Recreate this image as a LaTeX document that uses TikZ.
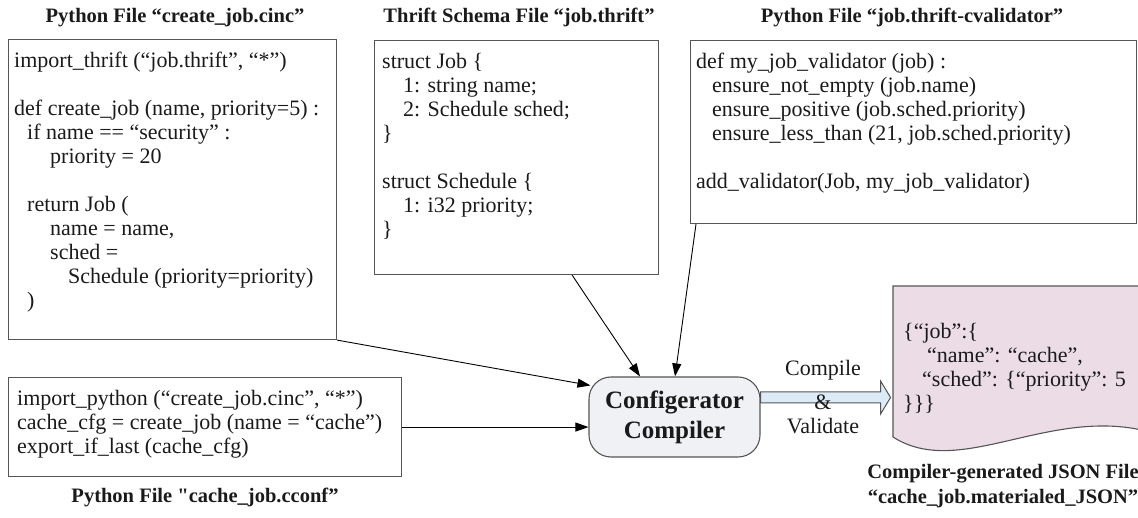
\documentclass[tikz,border=0pt]{standalone}
\usepackage{fontspec}
\setmainfont{Liberation Serif}
\newfontfamily\rawserif{Liberation Serif}
\usetikzlibrary{arrows.meta,calc}
\definecolor{boxline}{HTML}{555555}
\definecolor{compfill}{HTML}{EFF1F5}
\definecolor{arrfill}{HTML}{DDEBF7}
\definecolor{docfill}{HTML}{EBDCE6}
\definecolor{txt}{HTML}{1A1A1A}
\begin{document}
\begin{tikzpicture}[x=1pt,y=-1pt,
  filebox/.style={draw=boxline,line width=1.1pt,rectangle,inner sep=0pt,anchor=north west},
  codetext/.style={font=\fontsize{22}{24}\selectfont,align=left,anchor=north west,inner sep=0pt,text=txt},
  titletext/.style={font=\fontsize{20.5}{25}\selectfont\bfseries,inner sep=0pt,text=txt},
  lbl/.style={font=\fontsize{22}{24}\selectfont,inner sep=0pt,text=txt},
  conn/.style={line width=0.9pt,-{Triangle[length=13pt,width=9pt]}},
  compbox/.style={draw=boxline,line width=1.1pt,fill=compfill,rounded corners=22pt,
    minimum width=171pt,minimum height=80pt,inner sep=0pt,align=center,
    font=\fontsize{25}{30}\selectfont\bfseries,text=txt},
]
\useasboundingbox (0,0) rectangle (1138,518);
\clip (0,0) rectangle (1138,518);

% titles
\node[titletext,anchor=base] (tA) at (175,23) {Python File “create\_job.cinc”};
\node[titletext,anchor=base] (tB) at (519,23) {Thrift Schema File “job.thrift”};
\node[titletext,anchor=base] (tC) at (912,23) {Python File “job.thrift-cvalidator”};
\node[titletext,anchor=base] (tD) at (205,502) {Python File {\rawserif\bfseries "}cache\_job.cconf”};
\node[titletext,align=center] (tJ) at (1003,486) {Compiler-generated JSON File\\“cache\_job.materialed\_JSON”};

% file boxes
\node[filebox,minimum width=328pt,minimum height=300pt] (A) at (8,39) {};
\node[filebox,minimum width=284pt,minimum height=234pt] (B) at (374,40) {};
\node[filebox,minimum width=446pt,minimum height=183pt] (V) at (690,40) {};
\node[filebox,minimum width=393pt,minimum height=99pt] (D) at (8,377) {};

\node[codetext] (Atext) at (14,49) {\rule{0pt}{18pt}import\_thrift (“job.thrift”, “*”)\\
\mbox{}\\
def create\_job (name, priority=5) :\\
\hspace*{13pt}if name == “security” :\\
\hspace*{36pt}priority = 20\\
\mbox{}\\
\hspace*{13pt}return Job (\\
\hspace*{36pt}name = name,\\
\hspace*{36pt}sched =\\
\hspace*{54pt}Schedule (priority=priority)\\
\hspace*{13pt})};

\node[codetext] (Btext) at (382,50) {\rule{0pt}{18pt}struct Job \{\\
\hspace*{21pt}1: string name;\\
\hspace*{21pt}2: Schedule sched;\\
\}\\
\mbox{}\\
struct Schedule \{\\
\hspace*{21pt}1: i32 priority;\\
\}};

\node[codetext] (Vtext) at (696,50) {\rule{0pt}{18pt}def my\_job\_validator (job) :\\
\hspace*{16pt}ensure\_not\_empty (job.name)\\
\hspace*{16pt}ensure\_positive (job.sched.priority)\\
\hspace*{16pt}ensure\_less\_than (21, job.sched.priority)\\
\mbox{}\\
add\_validator(Job, my\_job\_validator)};

\node[codetext] (Dtext) at (17,387) {\rule{0pt}{18pt}import\_python (“create\_job.cinc”, “*”)\\
cache\_cfg = create\_job (name = “cache”)\\
export\_if\_last (cache\_cfg)};

% compiler
\node[compbox] (C) at (674.5,417) {Configerator\\Compiler};

% output document
\path[fill=docfill] (1150,286) -- (893,286) -- (893,437) .. controls (960,480) and (1050,405) .. (1150,432) -- cycle;
\draw[boxline,line width=1.1pt] (1150,286) -- (893,286) -- (893,437) .. controls (960,480) and (1050,405) .. (1150,432);
\node[codetext] (J) at (903,320) {\rule{0pt}{18pt}\{“job”:\{\\
\hspace*{24pt}“name”: “cache”,\\
\hspace*{19pt}“sched”: \{“priority”: 5\\
\}\}\}};

% block arrow
\coordinate (ba) at ($(C.east)+(0,-19.5)$);
\draw[boxline,line width=1pt,fill=arrfill,line join=miter]
  (ba) ++(0,-5.5) -- ++(120,0) -- ++(0,-11) -- ++(10,16.5) -- ++(-10,16.5) -- ++(0,-11) -- ++(-120,0) -- cycle;
\node[lbl] (l1) at (823,370) {Compile};
\node[lbl] (l2) at (823,402) {\&};
\node[lbl] (l3) at (823,426) {Validate};

% connectors
\draw[conn] (A.south east) -- ($(C.north west)+(2,9)$);
\draw[conn] ($(B.south east)+(-87,0)$) -- ($(C.north)+(-34.5,0)$);
\draw[conn] ($(V.south west)+(6,0)$) -- ($(C.north)+(0.5,0)$);
\draw[conn] (D.east) -- (D.east -| C.west);
\end{tikzpicture}
\end{document}
